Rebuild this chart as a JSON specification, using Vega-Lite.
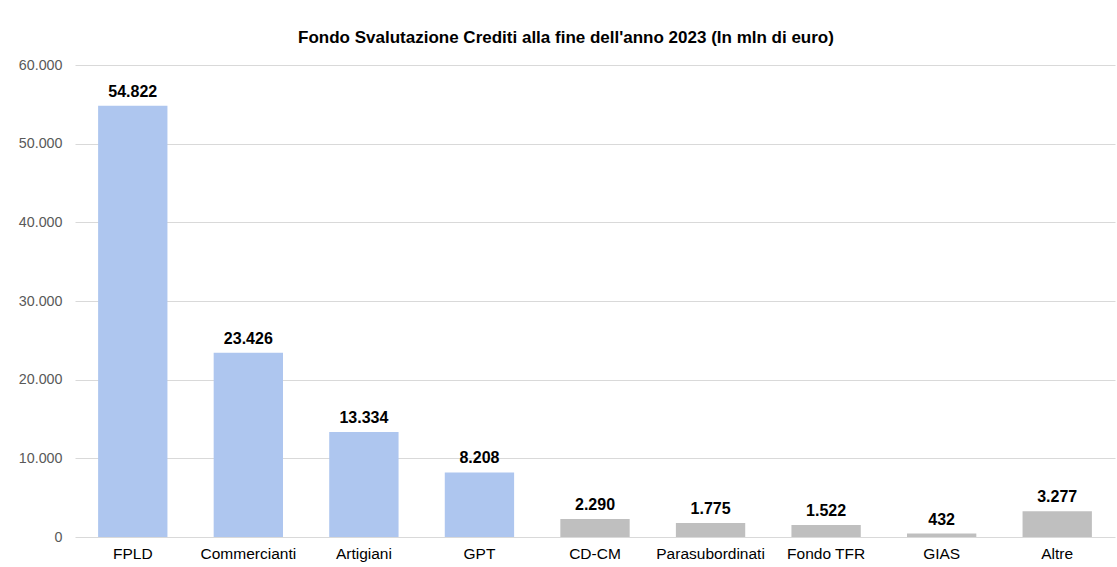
{
  "$schema": "https://vega.github.io/schema/vega-lite/v6.json",
  "autosize": "none",
  "width": 1040,
  "height": 472,
  "padding": {"left": 75, "top": 65, "right": 2, "bottom": 30},
  "background": "white",
  "config": {
    "locale": {"number": {"decimal": ",", "thousands": ".", "grouping": [3], "currency": ["€", ""]}},
    "view": {"stroke": null},
    "font": "Liberation Sans"
  },
  "title": {
    "text": "Fondo Svalutazione Crediti alla fine dell'anno 2023 (In mln di euro)",
    "fontSize": 17,
    "fontWeight": "bold",
    "color": "#000000",
    "font": "Liberation Sans",
    "offset": 11,
    "dx": -29
  },
  "data": {
    "values": [
      {"categoria": "FPLD", "valore": 54822, "gruppo": "A"},
      {"categoria": "Commercianti", "valore": 23426, "gruppo": "A"},
      {"categoria": "Artigiani", "valore": 13334, "gruppo": "A"},
      {"categoria": "GPT", "valore": 8208, "gruppo": "A"},
      {"categoria": "CD-CM", "valore": 2290, "gruppo": "B"},
      {"categoria": "Parasubordinati", "valore": 1775, "gruppo": "B"},
      {"categoria": "Fondo TFR", "valore": 1522, "gruppo": "B"},
      {"categoria": "GIAS", "valore": 432, "gruppo": "B"},
      {"categoria": "Altre", "valore": 3277, "gruppo": "B"}
    ]
  },
  "encoding": {
    "x": {
      "field": "categoria",
      "type": "nominal",
      "sort": null,
      "scale": {"paddingInner": 0.4, "paddingOuter": 0.2},
      "axis": {
        "title": null,
        "labelAngle": 0,
        "ticks": false,
        "domain": false,
        "labelFontSize": 15.5,
        "labelColor": "#000000",
        "labelPadding": 9,
        "labelFont": "Liberation Sans"
      }
    },
    "y": {
      "field": "valore",
      "type": "quantitative",
      "scale": {"domain": [0, 60000], "nice": false},
      "axis": {
        "title": null,
        "values": [0, 10000, 20000, 30000, 40000, 50000, 60000],
        "format": ",.0f",
        "ticks": false,
        "domain": false,
        "gridColor": "#d9d9d9",
        "gridWidth": 1,
        "labelFontSize": 14.3,
        "labelColor": "#595959",
        "labelPadding": 13,
        "labelFont": "Liberation Sans"
      }
    }
  },
  "layer": [
    {
      "mark": {"type": "bar"},
      "encoding": {
        "color": {
          "field": "gruppo",
          "type": "nominal",
          "scale": {"domain": ["A", "B"], "range": ["#aec6ef", "#bfbfbf"]},
          "legend": null
        }
      }
    },
    {
      "mark": {"type": "text", "baseline": "alphabetic", "dy": -9, "fontSize": 16, "fontWeight": "bold", "color": "#000000", "font": "Liberation Sans"},
      "encoding": {
        "text": {"field": "valore", "type": "quantitative", "format": ",.0f"}
      }
    }
  ]
}
